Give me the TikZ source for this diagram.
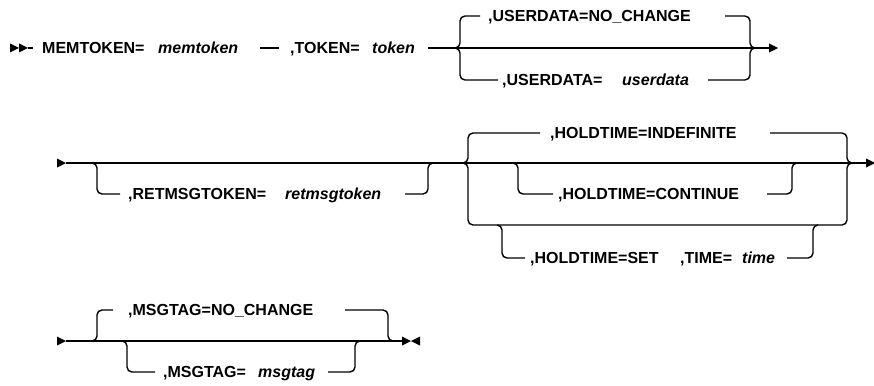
\documentclass[tikz,border=0pt]{standalone}
\usepackage{fontspec}
\setmainfont{Liberation Sans}
\begin{document}
\begin{tikzpicture}[x=1pt,y=-1pt,
  rail/.style={line width=1.4pt},
  rc/.style={rail, rounded corners=5pt},
  kw/.style={inner sep=0pt, text height=11.5pt, text depth=0pt, anchor=west,
             font=\fontsize{16}{19}\selectfont\bfseries},
  var/.style={kw, font=\fontsize{16}{19}\selectfont\bfseries\itshape},
  tipR/.pic={\fill (0,-4.5) -- (9,0) -- (0,4.5) -- cycle;},
  tipL/.pic={\fill (9,-4.5) -- (0,0) -- (9,4.5) -- cycle;}]
\useasboundingbox (0,0) rectangle (874,385);

% ---------- first line: MEMTOKEN, TOKEN, USERDATA ----------
\pic at (10,48) {tipR};
\pic at (19,48) {tipR};
\coordinate (r1in) at (28,48);
\node[kw]  (memk) at (42,48)  {MEMTOKEN=};
\node[var] (memv) at (158,48) {memtoken};
\node[kw]  (tokk) at (290,48) {,TOKEN=};
\node[var] (tokv) at (372,48) {token};
\coordinate (r1a) at (428,48);
\coordinate (ud-l) at (455,48);
\coordinate (ud-r) at (755,48);
\coordinate (r1out) at (769,48);
\node[kw]  (udnc) at (488,16) {,USERDATA=NO\_CHANGE};
\node[kw]  (udk)  at (502,80) {,USERDATA=};
\node[var] (udv)  at (622,80) {userdata};

\draw[rail] (r1in) -- (33,48);
\draw[rail] (260,48) -- (279,48);
\draw[rail] (r1a) -- (r1out);
\draw[rc] (ud-l) -| (460,16) -- (480,16);
\draw[rc] (725,16) -| (750,48) -- (ud-r);
\draw[rc] (ud-l) -| (460,80) -- (498,80);
\draw[rc] (708,80) -| (750,48) -- (ud-r);
\pic at (r1out) {tipR};

% ---------- second line: RETMSGTOKEN, HOLDTIME ----------
\pic at (57,163) {tipR};
\coordinate (r2in) at (66,163);
\coordinate (r2out) at (866,163);
\draw[rail] (r2in) -- (r2out);
\pic at (r2out) {tipR};

\coordinate (rt-l) at (90,163);
\coordinate (rt-r) at (435,163);
\node[kw]  (rtk) at (128,194) {,RETMSGTOKEN=};
\node[var] (rtv) at (285,194) {retmsgtoken};
\draw[rc] (rt-l) -| (97,194) -- (120,194);
\draw[rc] (405,194) -| (428,163) -- (rt-r);

\coordinate (ht-l) at (463,163);
\coordinate (ht-r) at (852,163);
\node[kw] (hti) at (550,133) {,HOLDTIME=INDEFINITE};
\draw[rc] (ht-l) -| (468,133) -- (540,133);
\draw[rc] (770,133) -| (847,163) -- (ht-r);
\draw[rc] (ht-l) -| (468,225) -| (847,163) -- (ht-r);

\coordinate (hc-l) at (513,163);
\coordinate (hc-r) at (798,163);
\node[kw] (htc) at (558,194) {,HOLDTIME=CONTINUE};
\draw[rc] (hc-l) -| (518,194) -- (553,194);
\draw[rc] (767,194) -| (792,163) -- (hc-r);

\coordinate (hs-l) at (497,225);
\coordinate (hs-r) at (818,225);
\node[kw]  (hts) at (530,258) {,HOLDTIME=SET};
\node[kw]  (htt) at (680,258) {,TIME=};
\node[var] (htv) at (742,258) {time};
\draw[rc] (hs-l) -| (502,258) -- (525,258);
\draw[rc] (787,258) -| (813,225) -- (hs-r);

% ---------- third line: MSGTAG ----------
\pic at (57,341) {tipR};
\coordinate (r3in) at (66,341);
\coordinate (r3out) at (402,341);
\draw[rail] (r3in) -- (r3out);
\pic at (r3out) {tipR};
\pic at (411,341) {tipL};

\coordinate (mt-l) at (92,341);
\coordinate (mt-r) at (393,341);
\node[kw] (mtn) at (128,310) {,MSGTAG=NO\_CHANGE};
\draw[rc] (mt-l) -| (97,310) -- (113,310);
\draw[rc] (345,310) -| (388,341) -- (mt-r);

\coordinate (mb-l) at (122,341);
\coordinate (mb-r) at (360,341);
\node[kw]  (mbk) at (163,372) {,MSGTAG=};
\node[var] (mbv) at (258,372) {msgtag};
\draw[rc] (mb-l) -| (127,372) -- (155,372);
\draw[rc] (328,372) -| (355,341) -- (mb-r);
\end{tikzpicture}
\end{document}
